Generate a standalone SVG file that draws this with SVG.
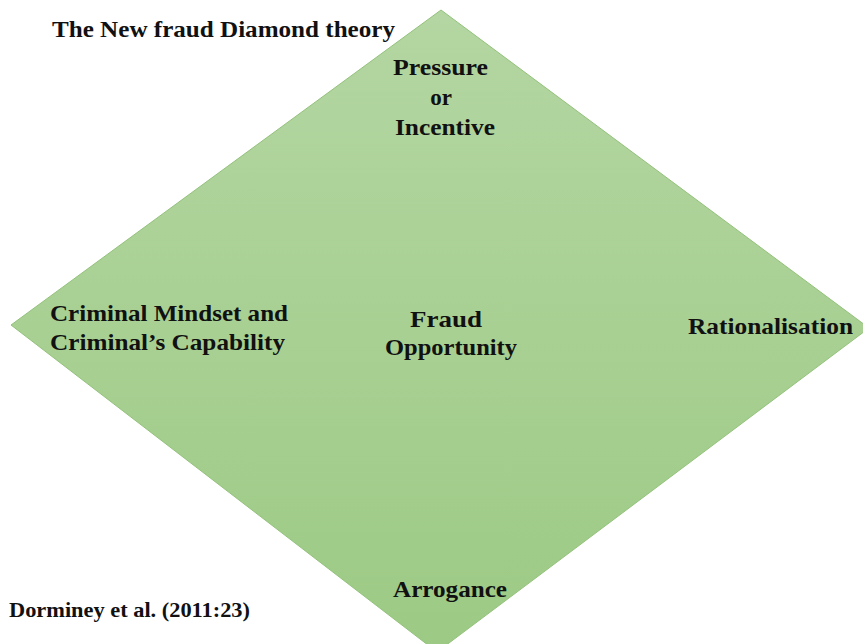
<svg xmlns="http://www.w3.org/2000/svg" width="863" height="644" viewBox="0 0 863 644">
  <defs>
    <linearGradient id="g" x1="0" y1="0" x2="0" y2="1">
      <stop offset="0" stop-color="#b4d6a2"/>
      <stop offset="1" stop-color="#9cca84"/>
    </linearGradient>
  </defs>
  <style>
    .t { font-family: 'Liberation Serif', 'DejaVu Serif', serif; font-weight: 700; fill: #111; font-size: 23px; }
    .h { font-size: 24px; }
    .s { font-size: 21px; }
  </style>
  <rect width="863" height="644" fill="#ffffff"/>
  <g id="diamond">
    <polygon points="441,10 869,328 437,652 11,325" fill="url(#g)" stroke="#93c17b" stroke-width="1"/>
  </g>
  <g id="title">
    <text class="t h" x="52" y="37" textLength="343" lengthAdjust="spacingAndGlyphs">The New fraud Diamond theory</text>
  </g>
  <g id="pressure">
    <text class="t" x="393" y="75" textLength="95" lengthAdjust="spacingAndGlyphs">Pressure</text>
    <text class="t" x="441" y="105" text-anchor="middle">or</text>
    <text class="t" x="395" y="135" textLength="100" lengthAdjust="spacingAndGlyphs">Incentive</text>
  </g>
  <g id="criminal">
    <text class="t" x="50" y="321" textLength="238" lengthAdjust="spacingAndGlyphs">Criminal Mindset and</text>
    <text class="t" x="50" y="350" textLength="235" lengthAdjust="spacingAndGlyphs">Criminal’s Capability</text>
  </g>
  <g id="opportunity">
    <text class="t" x="410" y="327" textLength="72" lengthAdjust="spacingAndGlyphs">Fraud</text>
    <text class="t" x="385" y="355" textLength="132" lengthAdjust="spacingAndGlyphs">Opportunity</text>
  </g>
  <g id="rationalisation">
    <text class="t" x="688" y="334" textLength="165" lengthAdjust="spacingAndGlyphs">Rationalisation</text>
  </g>
  <g id="arrogance">
    <text class="t" x="393" y="597" textLength="114" lengthAdjust="spacingAndGlyphs">Arrogance</text>
  </g>
  <g id="source">
    <text class="t s" x="9" y="617" textLength="241" lengthAdjust="spacingAndGlyphs">Dorminey et al. (2011:23)</text>
  </g>
</svg>
